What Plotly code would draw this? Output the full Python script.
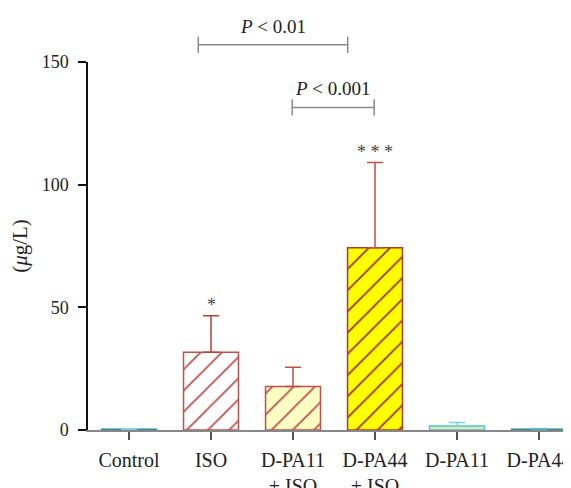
import plotly.graph_objects as go

categories = ["Control", "ISO", "D-PA11<br>+ ISO", "D-PA44<br>+ ISO", "D-PA11", "D-PA44"]
means = [0.3, 31.7, 17.7, 74.3, 1.6, 0.3]
sd_up = [0.2, 14.9, 7.9, 34.7, 1.5, 0.2]
stars = ["", "*", "", "* * *", "", ""]

fill_colors = ["#2a8a9a", "#ffffff", "#ffffc4", "#ffff00", "#e6e6b0", "#2a7f80"]
line_colors = ["#2a8a9a", "#c0504d", "#c0504d", "#b03a2e", "#4fc4d8", "#2a8a8a"]
hatch_colors = [None, "#c0504d", "#c0504d", "#a0301c", None, None]
err_colors = ["#7fd0e0", "#b5403d", "#c0504d", "#c0504d", "#7fd0e0", "#4fb8c8"]

# significance brackets: (x start, x end, y level, label)
brackets = [(0.845, 2.667, 157, "<i>P</i> < 0.01"),
            (1.99, 2.99, 131.5, "<i>P</i> < 0.001")]

XMIN, XMAX = -0.5, 5.39
YMAX = 150
FONT = "Liberation Serif"

fig = go.Figure()
for i, c in enumerate(categories):
    marker = dict(color=fill_colors[i], line=dict(color=line_colors[i], width=1.5))
    if hatch_colors[i]:
        marker["pattern"] = dict(shape="/", fgcolor=hatch_colors[i], bgcolor=fill_colors[i],
                                 size=15, solidity=0.12, fillmode="replace")
    fig.add_trace(go.Bar(
        x=[c], y=[means[i]], width=0.67, marker=marker, showlegend=False,
        error_y=dict(type="data", array=[sd_up[i]], arrayminus=[0], symmetric=False,
                     color=err_colors[i], thickness=1.5, width=8),
    ))
    if stars[i]:
        fig.add_annotation(x=c, y=means[i] + sd_up[i], text=stars[i], showarrow=False,
                           yanchor="bottom", yshift=-1,
                           font=dict(family=FONT, size=18, color="#444"))


def px(v):
    return (v - XMIN) / (XMAX - XMIN)


def py(v):
    return v / YMAX


for x0, x1, yl, lab in brackets:
    h = 3.3
    for seg in [(x0, yl, x1, yl), (x0, yl - h, x0, yl + h), (x1, yl - h, x1, yl + h)]:
        fig.add_shape(type="line", xref="paper", yref="paper",
                      x0=px(seg[0]), y0=py(seg[1]), x1=px(seg[2]), y1=py(seg[3]),
                      line=dict(color="#8a8a8a", width=1.5))
    fig.add_annotation(xref="paper", yref="paper", x=px((x0 + x1) / 2), y=py(yl),
                       text=lab, showarrow=False, yanchor="bottom", yshift=6,
                       font=dict(family=FONT, size=19, color="#222"))

fig.update_layout(
    width=563, height=480,
    margin=dict(l=80, r=0, t=54, b=58, autoexpand=False),
    plot_bgcolor="white", paper_bgcolor="white",
    barmode="overlay",
    font=dict(family=FONT, size=18, color="#222"),
    xaxis=dict(range=[XMIN, XMAX], showline=True, linecolor="#888", linewidth=2,
               ticks="outside", ticklen=8, tickwidth=1.5, tickcolor="#555",
               showgrid=False, zeroline=False, ticklabelstandoff=3, automargin=False,
               tickfont=dict(family=FONT, size=20, color="#222")),
    yaxis=dict(range=[0, YMAX], tickvals=[0, 50, 100, 150], showline=True,
               linecolor="#111", linewidth=1.5, ticks="outside", ticklen=8,
               tickwidth=1.5, tickcolor="#111", showgrid=False, zeroline=False,
               ticklabelstandoff=6, automargin=False,
               tickfont=dict(family=FONT, size=18, color="#222"),
               title=dict(text="(<i>μ</i>g/L)", standoff=12,
                          font=dict(family=FONT, size=21, color="#222"))),
)

fig.write_html("out.html")
